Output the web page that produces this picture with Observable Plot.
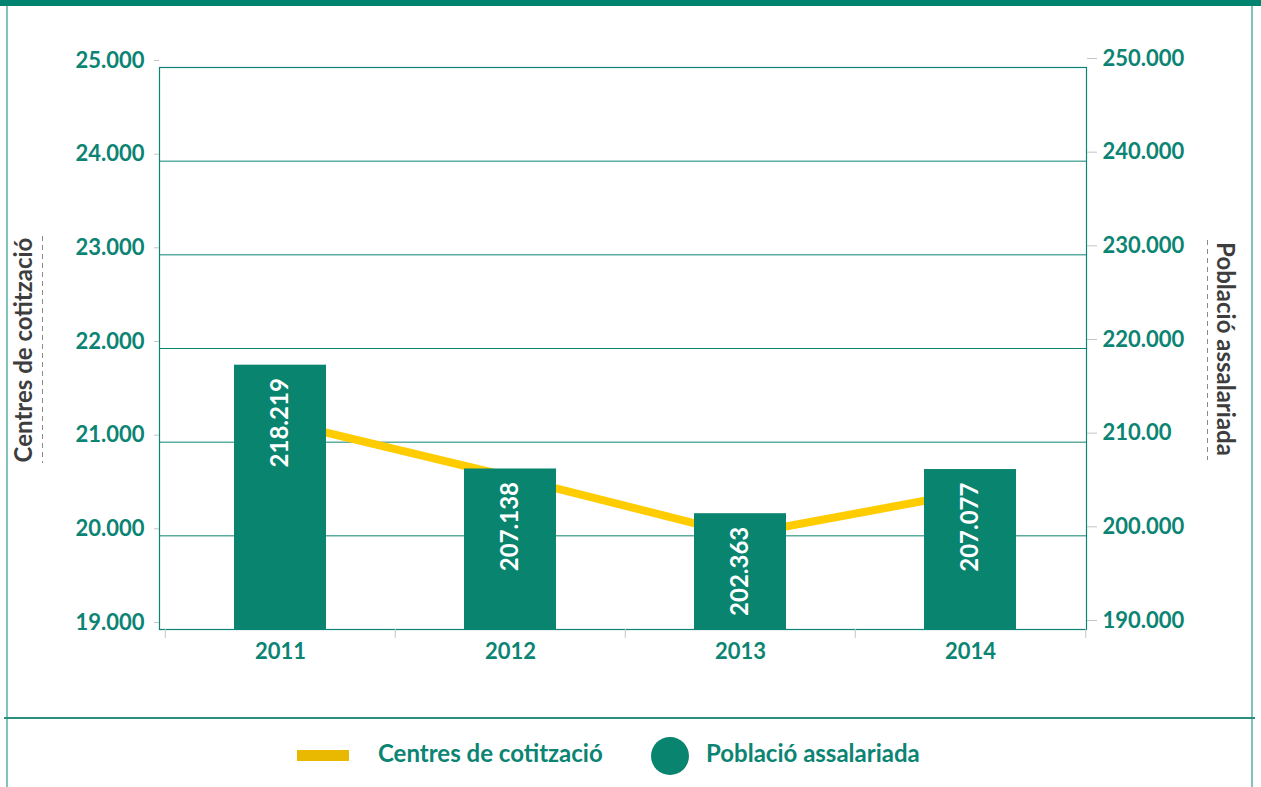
<!DOCTYPE html>
<html><head><meta charset="utf-8">
<script src="https://cdn.jsdelivr.net/npm/d3@7"></script>
<script src="https://cdn.jsdelivr.net/npm/@observablehq/plot@0.6"></script>
<style>
body{margin:0;background:#fff;font-family:Lato,"Noto Sans",sans-serif;}
#wrap{position:relative;width:1261px;height:787px;overflow:hidden;background:#fff;}
#chart{position:absolute;left:0;top:0;}
.topbar{position:absolute;left:0;top:0;width:1261px;height:6px;background:#00846f;}
.bl{position:absolute;left:6px;top:6px;width:2px;height:781px;background:#7fc6ba;}
.br{position:absolute;left:1251px;top:6px;width:2px;height:781px;background:#7fc6ba;}
.sep{position:absolute;left:4px;top:717px;width:1251px;height:2px;background:#2a8f7e;}
.ytitle{position:absolute;font-weight:bold;font-size:24px;color:#3d3d3d;white-space:nowrap;line-height:24px;}
.dash{position:absolute;width:1px;background:repeating-linear-gradient(to bottom,#8a8a8a 0 5px,transparent 5px 9px);}
.leg{position:absolute;font-weight:bold;font-size:24px;color:#0b8473;white-space:nowrap;line-height:24px;}
</style></head><body>
<div id="wrap">
  <div id="chart"></div>
  <div class="topbar"></div>
  <div class="bl"></div><div class="br"></div><div class="sep"></div>
  <div class="ytitle" id="tl" style="left:23px;top:350px;transform:translate(-50%,-50%) rotate(-90deg);">Centres de cotització</div>
  <div class="dash" style="left:42px;top:236px;height:227px;"></div>
  <div class="ytitle" id="tr" style="left:1226px;top:349px;transform:translate(-50%,-50%) rotate(90deg);">Població assalariada</div>
  <div class="dash" style="left:1207px;top:240px;height:220px;"></div>
  <div id="legend"></div>
</div>
<script>
const years = ["2011", "2012", "2013", "2014"];
const centres = [21220, 20630, 20010, 20465];
const poblacio = [218219, 207138, 202363, 207077];
const leftTicks = [19000, 20000, 21000, 22000, 23000, 24000, 25000];
const leftTickLabels = ["19.000", "20.000", "21.000", "22.000", "23.000", "24.000", "25.000"];
const rightTicks = [190000, 200000, 210000, 220000, 230000, 240000, 250000];
const rightTickLabels = ["190.000", "200.000", "210.00", "220.000", "230.000", "240.000", "250.000"];
const seriesNames = ["Centres de cotització", "Població assalariada"];

const teal = "#0b8473";
const barColor = "#08846f";
const lineColor = "#ffcc00";
const legendYellow = "#e8b900";

// map right-axis values onto the left-axis scale
const toLeft = v => leftTicks[0] + (v - rightTicks[0]) * (leftTicks[leftTicks.length-1] - leftTicks[0]) / (rightTicks[rightTicks.length-1] - rightTicks[0]);
const fmt = d3.formatLocale({decimal: ",", thousands: ".", grouping: [3], currency: ["", ""]}).format(",d");

const data = years.map((y, i) => ({year: y, centres: centres[i], pob: poblacio[i]}));

const W = 1261, H = 718, mL = 159, mR = 175, inset = 5;
const step = (W - mL - mR - inset) / years.length;
const ends = years.map((y, i) => ({year: y, dx: -step / 2})).concat([{year: years[years.length-1], dx: step / 2}]);

const chart = Plot.plot({
  width: W, height: H,
  marginLeft: mL, marginRight: mR, marginTop: 67, marginBottom: H - 629,
  style: {fontFamily: "Lato, 'Noto Sans', sans-serif", background: "transparent"},
  x: {domain: years, paddingInner: 0.6, paddingOuter: 0.3, insetLeft: inset, label: null},
  y: {domain: [leftTicks[0], leftTicks[leftTicks.length-1]], label: null},
  marks: [
    Plot.gridY(leftTicks, {stroke: teal, strokeOpacity: 1, strokeWidth: 1}),
    Plot.frame({stroke: teal, strokeWidth: 1.2}),
    Plot.axisY({anchor: "left", ticks: leftTicks, tickFormat: d => leftTickLabels[leftTicks.indexOf(d)], tickSize: 5, tickPadding: 10, stroke: "#c4c4c4", fill: teal, fontSize: 22, fontWeight: "bold", dy: -7, label: null}),
    Plot.axisY({anchor: "right", ticks: leftTicks, tickFormat: d => rightTickLabels[leftTicks.indexOf(d)], tickSize: 10, tickPadding: 6, stroke: "#c4c4c4", fill: teal, fontSize: 22, fontWeight: "bold", dy: -9, label: null}),
    Plot.axisX({anchor: "bottom", tickSize: 0, tickPadding: 14, fill: teal, fontSize: 22, fontWeight: "bold", label: null}),
    ...ends.map(e => Plot.ruleX([e], {x: "year", dx: e.dx, y1: leftTicks[0], y2: leftTicks[0] - 96, stroke: "#c4c4c4"})),
    Plot.line(data, {x: "year", y: "centres", stroke: lineColor, strokeWidth: 8}),
    Plot.barY(data, {x: "year", y1: leftTicks[0], y2: d => toLeft(d.pob), fill: barColor}),
    Plot.text(data, {x: "year", y: d => toLeft(d.pob), text: d => fmt(d.pob), rotate: -90, textAnchor: "end", lineAnchor: "middle", dy: 13, fill: "white", fontSize: 24, fontWeight: "bold"})
  ]
});
document.getElementById("chart").appendChild(chart);

// legend
const legend = document.getElementById("legend");
legend.innerHTML = `
  <div style="position:absolute;left:297px;top:750px;width:52px;height:11px;background:${legendYellow}"></div>
  <div class="leg" style="left:378px;top:741px;">${seriesNames[0]}</div>
  <div style="position:absolute;left:651px;top:737px;width:38px;height:38px;border-radius:50%;background:${barColor}"></div>
  <div class="leg" style="left:706px;top:741px;">${seriesNames[1]}</div>`;
</script>
</body></html>
